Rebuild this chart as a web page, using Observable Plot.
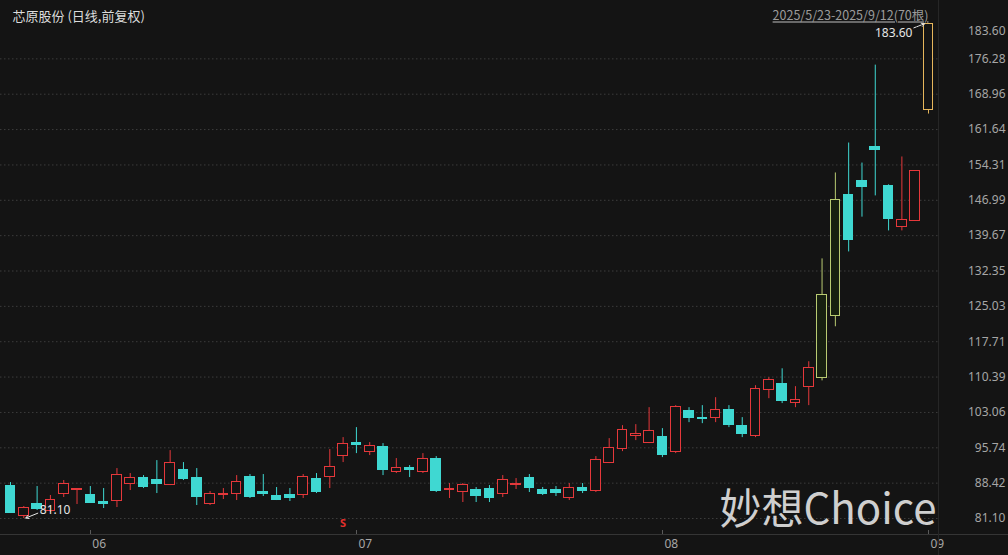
<!DOCTYPE html>
<html><head><meta charset="utf-8">
<script src="https://cdn.jsdelivr.net/npm/d3@7"></script>
<script src="https://cdn.jsdelivr.net/npm/@observablehq/plot@0.6"></script>
<style>
html,body{margin:0;padding:0;background:#141414;}
#chart{width:1008px;height:555px;overflow:hidden}
</style></head><body><div id="chart"></div>
<script>
// ---- data (bar index 1..70, 2025/5/23 - 2025/9/12) ----
const bars = d3.range(1, 71);
const opens = [87.92,81.72,84.20,82.55,86.27,87.10,86.06,84.62,84.82,88.34,
  89.58,89.16,88.13,91.23,89.58,84.20,86.06,86.27,89.78,86.68,
  85.86,86.06,86.06,89.37,89.78,94.13,96.82,94.95,96.00,90.82,
  91.65,90.82,93.51,87.10,86.68,87.10,87.30,86.27,88.13,89.58,
  87.10,87.10,85.44,87.51,86.89,92.68,95.57,98.26,96.82,98.06,
  94.95,103.43,101.99,101.99,103.64,100.33,98.26,107.77,109.00,105.09,
  108.40,110.26,123.08,148.10,151.00,158.00,149.96,141.48,142.72,165.67];
const highs = [88.54,83.58,87.72,85.86,88.96,87.30,87.72,87.30,91.44,90.41,
  89.99,93.09,95.16,92.68,91.44,86.68,87.30,89.99,90.20,90.20,
  87.51,87.30,90.20,90.41,95.37,97.85,99.92,96.82,96.61,93.51,
  92.06,94.54,93.92,88.34,88.34,87.51,87.92,89.99,89.37,90.20,
  87.51,87.72,88.34,88.34,93.92,97.64,100.33,100.54,104.05,99.71,
  104.47,104.05,104.47,106.12,104.47,101.99,108.60,110.26,112.10,108.40,
  113.56,134.86,152.65,158.85,154.70,174.98,150.20,155.96,153.00,183.60];
const lows = [82.13,81.10,82.75,82.34,85.44,84.00,84.20,83.17,83.37,86.89,
  87.30,86.27,87.92,88.96,83.79,83.79,85.03,84.82,85.24,85.65,
  84.82,84.62,85.24,86.27,87.30,92.68,94.54,94.13,89.99,90.41,
  89.58,90.41,86.48,85.24,84.41,84.41,84.41,85.44,87.10,86.48,
  85.86,85.65,84.82,86.27,86.48,92.47,94.95,97.23,96.61,93.71,
  94.54,100.95,100.74,100.95,99.92,97.85,97.85,105.91,104.90,104.05,
  104.47,109.60,120.80,136.30,143.50,147.90,140.65,140.65,142.72,164.85];
const closes = [82.34,83.37,83.17,85.03,88.34,87.30,84.41,84.00,90.20,89.58,
  87.72,88.34,92.68,89.37,85.65,86.27,86.27,88.75,85.65,86.27,
  85.03,85.44,89.78,86.68,91.85,96.61,96.40,96.20,91.23,91.65,
  91.23,93.51,86.89,87.30,88.13,85.86,85.44,89.16,88.34,87.51,
  86.27,86.48,87.51,86.89,93.30,95.78,99.50,98.68,99.30,94.33,
  104.26,101.99,101.78,103.64,100.54,98.68,107.98,109.84,105.50,105.71,
  112.32,127.42,147.06,138.79,149.75,157.50,143.14,142.93,153.00,183.60];
const touchLimitBars = [62, 63];   // drawn in olive
const closeLimitBars = [70];       // drawn in gold
const yTicks = [81.10,88.42,95.74,103.06,110.39,117.71,125.03,132.35,139.67,146.99,154.31,161.64,168.96,176.28,183.60];
const monthBars = [7, 27, 50, 70];
const monthLabels = ["06", "07", "08", "09"];
const signalBars = [26];
const title = "芯原股份 (日线,前复权)";
const rangeLabel = "2025/5/23-2025/9/12(70根)";
const lowMark = {i: 2, v: 81.10, label: "81.10"};
const highMark = {i: 70, v: 183.60, label: "183.60"};
const watermark = "妙想Choice";

// ---- build ----
const BG = "#141414", RED = "#e5383b", CYAN = "#3fd8d2", OLIVE = "#b9cb72", GOLD = "#e6b65c";
const data = bars.map((i, k) => ({i, o: opens[k], h: highs[k], l: lows[k], c: closes[k]}));
const strokeOf = d => closeLimitBars.includes(d.i) ? GOLD : touchLimitBars.includes(d.i) ? OLIVE : (d.c >= d.o ? RED : CYAN);
const fillOf = d => closeLimitBars.includes(d.i) ? BG : touchLimitBars.includes(d.i) ? "#172010" : (d.c >= d.o ? BG : CYAN);
const half = 0.36;

const plot = Plot.plot({
  width: 1008, height: 555,
  marginTop: 23, marginBottom: 21, marginLeft: 0, marginRight: 70,
  style: {background: BG, color: "#a8a8a8", fontFamily: "'Noto Sans','Noto Sans CJK SC',sans-serif", fontSize: "12px"},
  x: {domain: [0.248, 70.752], axis: null},
  y: {domain: [77.787, 183.60], axis: null},
  color: {type: "identity"},
  marks: [
    Plot.ruleY(yTicks.slice(0, -1), {y: d => d, stroke: "#3c3c3c", strokeDasharray: "1.5,2.5"}),
    Plot.ruleX(data, {x: "i", y1: "l", y2: "h", stroke: strokeOf, strokeWidth: 1}),
    Plot.rect(data, {x1: d => d.i - half, x2: d => d.i + half, y1: "o", y2: "c", fill: fillOf, stroke: strokeOf, strokeWidth: 1}),
    // y labels
    Plot.text(yTicks.slice(0, -1), {y: d => d, text: d => d.toFixed(2), frameAnchor: "right", dx: 67, textAnchor: "end", fill: "#a6a6a6", fontSize: 12}),
    Plot.text(yTicks.slice(-1), {y: d => d, text: d => d.toFixed(2), frameAnchor: "right", dx: 67, dy: 8, textAnchor: "end", fill: "#a6a6a6", fontSize: 12}),
    // month labels
    Plot.text(monthBars, {x: d => d, text: (d, k) => monthLabels[k], frameAnchor: "bottom", dy: 13, dx: 2, textAnchor: "start", fill: "#a6a6a6", fontSize: 12}),
    // signal marker
    Plot.text(signalBars, {x: d => d, text: () => "S", frameAnchor: "bottom", dy: -8, fill: "#e3302c", fontWeight: "bold", fontSize: 11}),
    // title and range
    Plot.text([title], {text: d => d, frameAnchor: "top-left", dx: 12, dy: -12, textAnchor: "start", fill: "#dcdcdc", fontSize: 13, fontFamily: "'Noto Sans CJK SC',sans-serif"}),
    Plot.text([rangeLabel], {text: d => d, frameAnchor: "top-right", dx: -10, dy: -12, textAnchor: "end", fill: "#9c9c9c", fontSize: 12.5, fontFamily: "'Noto Sans CJK SC',sans-serif", className: "rangelbl"}),
    // annotations
    Plot.text([lowMark], {x: "i", y: "v", text: "label", dx: 16, dy: -8, textAnchor: "start", fill: "#e6e6e6", fontSize: 12}),
    Plot.arrow([lowMark], {x1: d => d.i + 1.05, y1: d => d.v + 1.1, x2: d => d.i + 0.15, y2: d => d.v + 0.1, stroke: "#e6e6e6", strokeWidth: 1, headLength: 5}),
    Plot.text([highMark], {x: "i", y: "v", text: "label", dx: -16, dy: 10, textAnchor: "end", fill: "#e6e6e6", fontSize: 12}),
    Plot.arrow([highMark], {x1: d => d.i - 1.1, y1: d => d.v - 0.9, x2: d => d.i - 0.3, y2: d => d.v - 0.05, stroke: "#e6e6e6", strokeWidth: 1, headLength: 5, strokeDasharray: "2,1"}),
    // watermark
    Plot.text([watermark], {text: d => d, frameAnchor: "bottom-right", dx: -2, dy: -11, textAnchor: "end", fill: "#cfcfcf", fontSize: 42, fontFamily: "'Noto Sans CJK SC',sans-serif"})
  ]
});

// decorative frame lines
const svg = d3.select(plot);
const xs = plot.scale("x"), ys = plot.scale("y");
const yb = ys.apply(77.787);
svg.append("line").attr("x1", 0).attr("x2", 1008).attr("y1", yb + 0.5).attr("y2", yb + 0.5).attr("stroke", "#353535");
svg.append("line").attr("x1", 938.5).attr("x2", 938.5).attr("y1", 0).attr("y2", 555).attr("stroke", "#262626");
for (const m of monthBars) {
  const x = Math.round(xs.apply(m)) + 0.5;
  svg.append("line").attr("x1", x).attr("x2", x).attr("y1", yb - 4).attr("y2", yb).attr("stroke", "#5a5a5a");
}
svg.selectAll(".rangelbl text").style("text-decoration", "underline");
svg.selectAll("rect").attr("shape-rendering", "crispEdges");
document.getElementById("chart").appendChild(plot);
</script></body></html>
